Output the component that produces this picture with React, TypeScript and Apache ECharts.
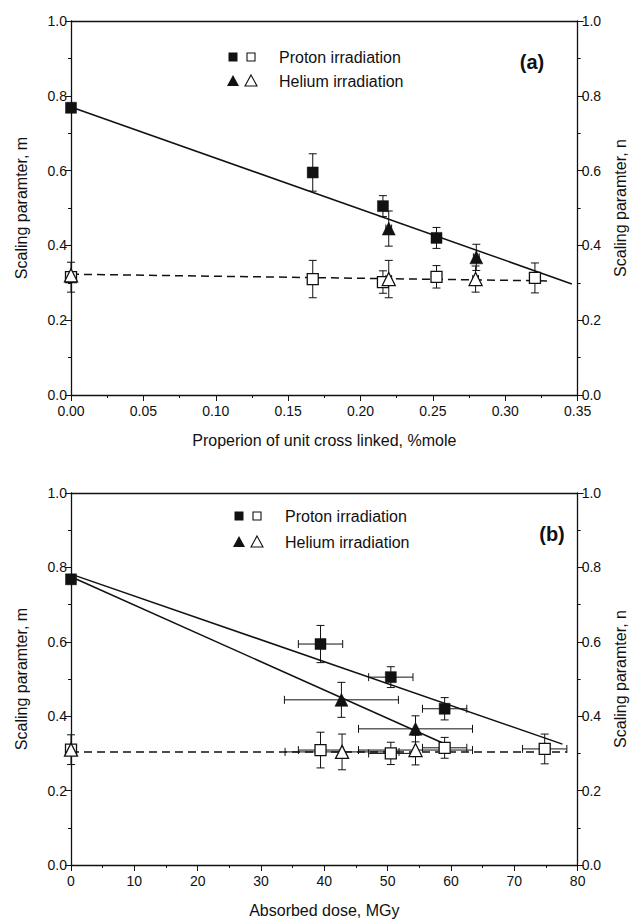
import React, { useEffect, useRef } from "react";
import * as echarts from "echarts";

// ---------- Panel (a): proportion of unit cross linked ----------
// each point: [x, y, xErr, yErr]
const aProtonM = [
  [0, 0.768, 0, 0.012],
  [0.167, 0.595, 0.003, 0.05],
  [0.2155, 0.505, 0.003, 0.028],
  [0.2525, 0.42, 0.003, 0.028],
];
const aProtonN = [
  [0, 0.315, 0, 0.04],
  [0.167, 0.31, 0.003, 0.05],
  [0.2155, 0.302, 0.003, 0.03],
  [0.2525, 0.316, 0.003, 0.03],
  [0.3205, 0.313, 0.003, 0.04],
];
const aHeliumM = [
  [0.2195, 0.445, 0.002, 0.047],
  [0.28, 0.368, 0.002, 0.035],
];
const aHeliumN = [
  [0, 0.32, 0, 0.0],
  [0.2195, 0.31, 0.002, 0.05],
  [0.2795, 0.31, 0.002, 0.035],
];
const aFitM = [
  [0, 0.77],
  [0.346, 0.297],
];
const aFitN = [
  [0, 0.323],
  [0.331, 0.305],
];

// ---------- Panel (b): absorbed dose ----------
const bProtonM = [
  [0, 0.768, 0, 0.012],
  [39.4, 0.594, 3.5, 0.05],
  [50.5, 0.505, 3.5, 0.028],
  [59.0, 0.42, 3.5, 0.03],
];
const bProtonN = [
  [0, 0.31, 0, 0.04],
  [39.4, 0.309, 3.5, 0.048],
  [50.5, 0.3, 3.5, 0.03],
  [59.0, 0.315, 3.5, 0.028],
  [74.8, 0.312, 3.5, 0.04],
];
const bHeliumM = [
  [42.7, 0.444, 9, 0.047],
  [54.4, 0.366, 9, 0.035],
];
const bHeliumN = [
  [0, 0.31, 0, 0.0],
  [42.8, 0.304, 9, 0.048],
  [54.4, 0.309, 9, 0.04],
];
const bFitProton = [
  [0, 0.782],
  [77.6, 0.325],
];
const bFitHelium = [
  [0, 0.775],
  [58.7, 0.328],
];
const bFitN = [
  [0, 0.304],
  [78.3, 0.304],
];

const legendLabels = ["Proton irradiation", "Helium irradiation"];
const panelLabels = ["(a)", "(b)"];
const xTitles = ["Properion of unit cross linked, %mole", "Absorbed dose, MGy"];
const yTitleLeft = "Scaling paramter, m";
const yTitleRight = "Scaling paramter, n";

const FONT = "'Liberation Sans', Arial, sans-serif";
const BLACK = "#111";

const errRender = (params: any, api: any) => {
  const x = api.value(0);
  const y = api.value(1);
  const dx = api.value(2);
  const dy = api.value(3);
  const cap = 4;
  const st = { stroke: BLACK, lineWidth: 1 };
  const children: any[] = [];
  if (dy > 0) {
    const t = api.coord([x, y + dy]);
    const b = api.coord([x, y - dy]);
    children.push({ type: "line", shape: { x1: t[0], y1: t[1], x2: b[0], y2: b[1] }, style: st });
    children.push({ type: "line", shape: { x1: t[0] - cap, y1: t[1], x2: t[0] + cap, y2: t[1] }, style: st });
    children.push({ type: "line", shape: { x1: b[0] - cap, y1: b[1], x2: b[0] + cap, y2: b[1] }, style: st });
  }
  if (dx > 0) {
    const l = api.coord([x - dx, y]);
    const r = api.coord([x + dx, y]);
    children.push({ type: "line", shape: { x1: l[0], y1: l[1], x2: r[0], y2: r[1] }, style: st });
    children.push({ type: "line", shape: { x1: l[0], y1: l[1] - cap, x2: l[0], y2: l[1] + cap }, style: st });
    children.push({ type: "line", shape: { x1: r[0], y1: r[1] - cap, x2: r[0], y2: r[1] + cap }, style: st });
  }
  return { type: "group", children };
};

const axisLineStyle = { color: BLACK, width: 1.3 };

function makeXAxis(grid: number, max: number, interval: number, dec: number, name: string) {
  return {
    type: "value",
    gridIndex: grid,
    min: 0,
    max,
    interval,
    position: "bottom",
    axisLine: { show: true, onZero: false, lineStyle: axisLineStyle },
    axisTick: { show: true, inside: false, length: 6, lineStyle: { color: BLACK, width: 1 } },
    minorTick: { show: true, splitNumber: 2, length: 3, lineStyle: { color: BLACK, width: 1 } },
    splitLine: { show: false },
    axisLabel: {
      color: BLACK,
      fontFamily: FONT,
      fontSize: 14,
      margin: 9,
      formatter: (v: number) => v.toFixed(dec),
    },
    name,
    nameLocation: "middle",
    nameGap: 37,
    nameTextStyle: { color: BLACK, fontFamily: FONT, fontSize: 16 },
  };
}
function makeTopAxis(grid: number, max: number) {
  return {
    type: "value",
    gridIndex: grid,
    min: 0,
    max,
    position: "top",
    axisLine: { show: true, onZero: false, lineStyle: axisLineStyle },
    axisTick: { show: false },
    axisLabel: { show: false },
    splitLine: { show: false },
  };
}
function makeYAxis(grid: number, pos: string, name: string, gap: number) {
  return {
    type: "value",
    gridIndex: grid,
    min: 0,
    max: 1,
    interval: 0.2,
    position: pos,
    axisLine: { show: true, onZero: false, lineStyle: axisLineStyle },
    axisTick: { show: true, inside: false, length: 6, lineStyle: { color: BLACK, width: 1 } },
    minorTick: { show: true, splitNumber: 2, length: 3, lineStyle: { color: BLACK, width: 1 } },
    splitLine: { show: false },
    axisLabel: {
      color: BLACK,
      fontFamily: FONT,
      fontSize: 14,
      margin: 4,
      formatter: (v: number) => v.toFixed(1),
    },
    name,
    nameLocation: "middle",
    nameRotate: 90,
    nameGap: gap,
    nameTextStyle: { color: BLACK, fontFamily: FONT, fontSize: 16 },
  };
}

const pts = (arr: number[][]) => arr.map((d) => [d[0], d[1]]);

function panelSeries(
  xi: number,
  yi: number,
  errData: number[][],
  fits: { data: number[][]; dashed: boolean }[],
  openSq: number[][],
  openTri: number[][],
  fillSq: number[][],
  fillTri: number[][]
) {
  const base = { xAxisIndex: xi, yAxisIndex: yi };
  const series: any[] = [];
  series.push({
    ...base,
    type: "custom",
    renderItem: errRender,
    data: errData,
    encode: { x: 0, y: 1 },
    z: 1,
    silent: true,
  });
  fits.forEach((f) => {
    series.push({
      ...base,
      type: "line",
      data: f.data,
      showSymbol: false,
      symbol: "none",
      lineStyle: { color: BLACK, width: 1.5, type: f.dashed ? [8, 5] : "solid" },
      z: 2,
      silent: true,
    });
  });
  const openStyle = { color: "#fff", borderColor: BLACK, borderWidth: 1.3, opacity: 1 };
  const fillStyle = { color: BLACK, borderColor: BLACK, borderWidth: 0.5, opacity: 1 };
  series.push({ ...base, type: "scatter", data: pts(openSq), symbol: "rect", symbolSize: 11, itemStyle: openStyle, z: 3, silent: true });
  series.push({ ...base, type: "scatter", data: pts(openTri), symbol: "triangle", symbolSize: 13, itemStyle: openStyle, z: 3, silent: true });
  series.push({ ...base, type: "scatter", data: pts(fillSq), symbol: "rect", symbolSize: 11, itemStyle: fillStyle, z: 4, silent: true });
  series.push({ ...base, type: "scatter", data: pts(fillTri), symbol: "triangle", symbolSize: 13, itemStyle: fillStyle, z: 4, silent: true });
  return series;
}

function legendGraphics(x0: number, y0: number, dy: number, label: string, lx: number, ly: number) {
  const els: any[] = [];
  const s = 9;
  const xs = [x0, x0 + 18];
  const textX = x0 + 46;
  els.push({ type: "rect", shape: { x: xs[0] - s / 2, y: y0 - s / 2, width: s, height: s }, style: { fill: BLACK } });
  els.push({
    type: "rect",
    shape: { x: xs[1] - s / 2 + 0.5, y: y0 - s / 2 + 0.5, width: s - 1, height: s - 1 },
    style: { fill: "#fff", stroke: BLACK, lineWidth: 1.1 },
  });
  const y1 = y0 + dy;
  const tri = (cx: number) => [
    [cx, y1 - 6],
    [cx + 6, y1 + 5],
    [cx - 6, y1 + 5],
  ];
  els.push({ type: "polygon", shape: { points: tri(xs[0]) }, style: { fill: BLACK } });
  els.push({ type: "polygon", shape: { points: tri(xs[1]) }, style: { fill: "#fff", stroke: BLACK, lineWidth: 1.1 } });
  els.push({
    type: "text",
    x: textX,
    y: y0,
    style: { text: legendLabels[0], fill: BLACK, font: `16px ${FONT}`, verticalAlign: "middle", align: "left" },
  });
  els.push({
    type: "text",
    x: textX,
    y: y1,
    style: { text: legendLabels[1], fill: BLACK, font: `16px ${FONT}`, verticalAlign: "middle", align: "left" },
  });
  els.push({
    type: "text",
    x: lx,
    y: ly,
    style: { text: label, fill: BLACK, font: `bold 20px ${FONT}`, verticalAlign: "middle", align: "center" },
  });
  return els;
}

export default function App() {
  const ref = useRef<HTMLDivElement>(null);
  useEffect(() => {
    if (!ref.current) return;
    const chart = echarts.init(ref.current, undefined, { renderer: "svg" });
    const option: any = {
      animation: false,
      backgroundColor: "#fff",
      textStyle: { fontFamily: FONT },
      grid: [
        { left: 71, top: 21, width: 510, height: 374, containLabel: false },
        { left: 71, top: 493, width: 510, height: 372, containLabel: false },
      ],
      xAxis: [
        makeXAxis(0, 0.35, 0.05, 2, xTitles[0]),
        makeTopAxis(0, 0.35),
        makeXAxis(1, 80, 10, 0, xTitles[1]),
        makeTopAxis(1, 80),
      ],
      yAxis: [
        makeYAxis(0, "left", yTitleLeft, 42),
        makeYAxis(0, "right", yTitleRight, 30),
        makeYAxis(1, "left", yTitleLeft, 42),
        makeYAxis(1, "right", yTitleRight, 30),
      ],
      series: [
        ...panelSeries(
          0,
          0,
          [...aProtonN, ...aHeliumN, ...aProtonM, ...aHeliumM],
          [
            { data: aFitM, dashed: false },
            { data: aFitN, dashed: true },
          ],
          aProtonN,
          aHeliumN,
          aProtonM,
          aHeliumM
        ),
        ...panelSeries(
          2,
          2,
          [...bProtonN, ...bHeliumN, ...bProtonM, ...bHeliumM],
          [
            { data: bFitProton, dashed: false },
            { data: bFitHelium, dashed: false },
            { data: bFitN, dashed: true },
          ],
          bProtonN,
          bHeliumN,
          bProtonM,
          bHeliumM
        ),
      ],
      graphic: [
        ...legendGraphics(233, 57, 24, panelLabels[0], 532, 62),
        ...legendGraphics(239, 516, 26, panelLabels[1], 552, 534),
      ],
    };
    chart.setOption(option);
    return () => chart.dispose();
  }, []);
  return (
    <div
      ref={ref}
      style={{ position: "absolute", left: 0, top: 0, width: 636, height: 921, background: "#fff" }}
    />
  );
}
